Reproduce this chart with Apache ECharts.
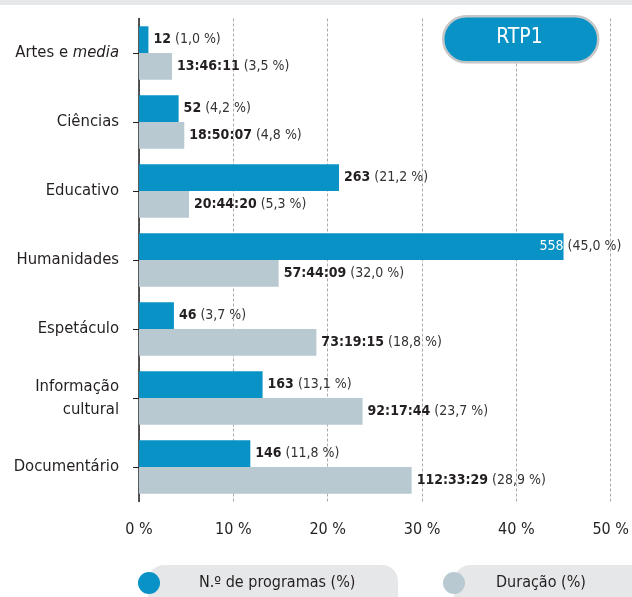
<!DOCTYPE html>
<html>
<head>
<meta charset="utf-8">
<script src="https://cdn.jsdelivr.net/npm/echarts@6/dist/echarts.min.js"></script>
<style>
html, body { margin: 0; padding: 0; background: #fff; }
#chart { width: 632px; height: 597px; }
</style>
</head>
<body>
<div id="chart"></div>
<script>
// dados
const categories = ['Artes e media', 'Ciências', 'Educativo', 'Humanidades', 'Espetáculo', 'Informação\ncultural', 'Documentário'];
const programCounts = [12, 52, 263, 558, 46, 163, 146];
const programPct = [1.0, 4.2, 21.2, 45.0, 3.7, 13.1, 11.8];
const durations = ['13:46:11', '18:50:07', '20:44:20', '57:44:09', '73:19:15', '92:17:44', '112:33:29'];
// comprimento das barras cinzentas tal como desenhadas (Humanidades ~14,8)
const durationPct = [3.5, 4.8, 5.3, 14.8, 18.8, 23.7, 28.9];
// percentagens escritas nas etiquetas
const durationPctText = ['3,5', '4,8', '5,3', '32,0', '18,8', '23,7', '28,9'];
const xTicks = [0, 10, 20, 30, 40, 50];

const FONT = '"Liberation Sans Narrow", "DejaVu Sans Condensed", sans-serif';
const BLUE = '#0892c5';
const GREY = '#b9c9d1';
const TXT = '#231f20';

const fmt = v => v.toFixed(1).replace('.', ',') + ' %';

const richLabel = {
	b: { fontFamily: FONT, fontSize: 14, fontWeight: 'bold', color: TXT },
	n: { fontFamily: FONT, fontSize: 14, color: '#333' },
	w: { fontFamily: FONT, fontSize: 14, color: '#fff' }
};

const blueData = programPct.map((v, i) => {
	let item = { value: v };
	if (v > 40) {
		// valor dentro da barra, percentagem fora
		item.label = {
			position: 'right',
			offset: [-29, 0],
			formatter: () => '{w|' + programCounts[i] + '}{n| (' + fmt(v) + ')}'
		};
	}
	return item;
});

const option = {
	backgroundColor: '#fff',
	animation: false,
	grid: { left: 139, right: 18, top: 18.5, bottom: 95.5 },
	xAxis: {
		type: 'value',
		min: 0, max: 50, interval: 10,
		axisLine: { show: false },
		axisTick: { show: false },
		axisLabel: {
			margin: 20,
			fontFamily: FONT, fontSize: 16, color: TXT,
			formatter: v => xTicks.includes(v) ? v + ' %' : ''
		},
		splitLine: { lineStyle: { type: [3, 2], color: '#aaa', width: 1 } }
	},
	yAxis: {
		type: 'category',
		data: categories,
		inverse: true,
		axisLine: { lineStyle: { color: '#231f20', width: 1.5 } },
		axisTick: { show: true, length: 6, lineStyle: { color: '#231f20' }, alignWithLabel: true },
		axisLabel: {
			margin: 20,
			fontFamily: FONT, fontSize: 16.5, color: TXT, align: 'right', lineHeight: 23,
			formatter: v => v === 'Artes e media' ? '{n|Artes e }{i|media}' : v,
			rich: {
				n: { fontFamily: FONT, fontSize: 16.5, color: TXT },
				i: { fontFamily: FONT, fontSize: 16.5, color: TXT, fontStyle: 'italic' }
			}
		}
	},
	legend: [{
		left: 133, top: 567,
		icon: 'circle', itemWidth: 22, itemHeight: 22,
		data: ['N.º de programas (%)'],
		selectedMode: false,
		textStyle: { fontFamily: FONT, fontSize: 16, color: TXT, padding: [0, 0, 0, 34] }
	}, {
		left: 438, top: 567,
		icon: 'circle', itemWidth: 22, itemHeight: 22,
		data: ['Duração (%)'],
		selectedMode: false,
		textStyle: { fontFamily: FONT, fontSize: 16, color: TXT, padding: [0, 0, 0, 26] }
	}],
	graphic: [
		{ type: 'rect', left: 0, top: 0, z: -10, shape: { width: 632, height: 5 }, style: { fill: '#e6e7e8' } },
		{ type: 'rect', left: 148, top: 565, z: -10, shape: { width: 250, height: 50, r: 16 }, style: { fill: '#e6e7e8' } },
		{ type: 'rect', left: 454, top: 565, z: -10, shape: { width: 200, height: 50, r: 16 }, style: { fill: '#e6e7e8' } },
		{
			type: 'rect', left: 442, top: 15, z: 10,
			shape: { width: 155, height: 46, r: 23 },
			style: { fill: BLUE, stroke: '#c4c6c8', lineWidth: 2.5 }
		},
		{
			type: 'text', z: 11,
			style: { text: 'RTP1', fill: '#fff', font: '21px ' + FONT, x: 519.5, y: 38, align: 'center', verticalAlign: 'middle' }
		}
	],
	series: [{
		name: 'N.º de programas (%)',
		type: 'bar',
		data: blueData,
		barWidth: 26.7,
		barGap: '0%',
		itemStyle: { color: BLUE },
		label: {
			show: true, position: 'right', distance: 5,
			formatter: p => '{b|' + programCounts[p.dataIndex] + '}{n| (' + fmt(p.value) + ')}',
			rich: richLabel
		}
	}, {
		name: 'Duração (%)',
		type: 'bar',
		data: durationPct,
		barWidth: 26.7,
		barGap: '0%',
		itemStyle: { color: GREY },
		label: {
			show: true, position: 'right', distance: 5,
			formatter: p => '{b|' + durations[p.dataIndex] + '}{n| (' + durationPctText[p.dataIndex] + ' %)}',
			rich: richLabel
		}
	}]
};

echarts.init(document.getElementById('chart')).setOption(option);
</script>
</body>
</html>
